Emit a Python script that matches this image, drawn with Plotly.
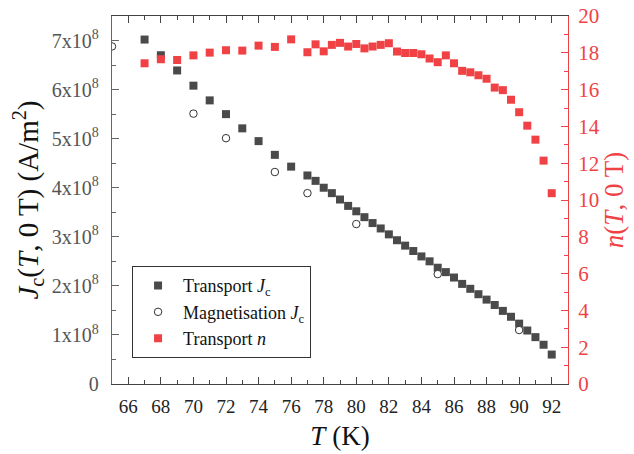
import plotly.graph_objects as go

# ---- data ----
T_transport = [67, 68, 69, 70, 71, 72, 73, 74, 75, 76,
               77, 77.5, 78, 78.5, 79, 79.5, 80, 80.5, 81, 81.5, 82, 82.5,
               83, 83.5, 84, 84.5, 85, 85.5, 86, 86.5, 87, 87.5, 88, 88.5,
               89, 89.5, 90, 90.5, 91, 91.5, 92]
Jc_transport = [7.02, 6.70, 6.39, 6.08, 5.78, 5.50, 5.21, 4.95, 4.67, 4.43,
                4.25, 4.14, 4.00, 3.89, 3.76, 3.63, 3.52, 3.40, 3.28, 3.17, 3.05, 2.93,
                2.82, 2.71, 2.60, 2.50, 2.37, 2.28, 2.17, 2.04, 1.94, 1.83, 1.72, 1.61,
                1.49, 1.37, 1.23, 1.09, 0.955, 0.80, 0.60]  # x1e8 A/m^2
n_transport = [17.43, 17.65, 17.61, 17.86, 18.01, 18.14, 18.12, 18.39, 18.32, 18.73,
               18.03, 18.46, 18.08, 18.43, 18.54, 18.34, 18.48, 18.24, 18.34, 18.43, 18.52, 18.07,
               17.99, 17.99, 17.92, 17.69, 17.49, 17.86, 17.43, 17.02, 16.94, 16.78, 16.59, 16.11,
               15.97, 15.45, 14.77, 14.04, 13.28, 12.14, 10.37]
T_mag = [65, 70, 72, 75, 77, 80, 85, 90]
Jc_mag = [6.88, 5.51, 5.01, 4.32, 3.89, 3.26, 2.24, 1.10]  # x1e8 A/m^2

left_tickvals = [0, 1e8, 2e8, 3e8, 4e8, 5e8, 6e8, 7e8]
left_ticktext = ["0", "1x10<sup>8</sup>", "2x10<sup>8</sup>", "3x10<sup>8</sup>",
                 "4x10<sup>8</sup>", "5x10<sup>8</sup>", "6x10<sup>8</sup>", "7x10<sup>8</sup>"]

SCALE = 1e8
FONT = "Liberation Serif, Times New Roman, serif"
RED = "#f04245"
DARK = "#4a4a4a"

fig = go.Figure()
fig.add_trace(go.Scatter(
    x=T_transport, y=[v * SCALE for v in Jc_transport], mode="markers",
    name="Transport <i>J</i><sub>c</sub>",
    marker=dict(symbol="square", size=8, color=DARK, line=dict(width=0)),
))
fig.add_trace(go.Scatter(
    x=T_mag, y=[v * SCALE for v in Jc_mag], mode="markers",
    name="Magnetisation <i>J</i><sub>c</sub>",
    marker=dict(symbol="circle", size=7.5, color="white", line=dict(width=1, color="#333333")),
))
fig.add_trace(go.Scatter(
    x=T_transport, y=n_transport, mode="markers", yaxis="y2",
    name="Transport <i>n</i>",
    marker=dict(symbol="square", size=8, color=RED, line=dict(width=0)),
))

fig.update_layout(
    width=634, height=454,
    margin=dict(l=112, r=66, t=16, b=70),
    paper_bgcolor="white", plot_bgcolor="white",
    font=dict(family=FONT, size=18, color="#222222"),
    showlegend=True,
    legend=dict(
        x=0.044, y=0.32, xanchor="left", yanchor="top",
        bordercolor="#333333", borderwidth=1, bgcolor="white",
        font=dict(family=FONT, size=18, color="#111111"),
        itemwidth=40,
    ),
    xaxis=dict(
        range=[65, 93], tick0=66, dtick=2, automargin=False,
        showline=True, linecolor="#444444", linewidth=1.3,
        mirror="ticks", ticks="inside", ticklen=7, tickcolor="#444444",
        minor=dict(tick0=65, dtick=1, ticks="inside", ticklen=4, tickcolor="#444444"),
        showgrid=False, zeroline=False, ticklabelstandoff=5,
        tickfont=dict(size=19, color="#222222"),
        title=dict(text="<i>T</i> (K)", font=dict(size=27, color="#111111"), standoff=10),
    ),
    yaxis=dict(
        range=[0, 7.5e8], tickmode="array", tickvals=left_tickvals, ticktext=left_ticktext,
        automargin=False,
        showline=True, linecolor="#666666", linewidth=1.3,
        ticks="inside", ticklen=7, tickcolor="#666666",
        minor=dict(tickmode="linear", tick0=0, dtick=5e7, ticks="inside", ticklen=4, tickcolor="#666666"),
        showgrid=False, zeroline=False, ticklabelstandoff=8,
        tickfont=dict(size=20, color="#555555"),
        title=dict(text="<i>J</i><sub>c</sub>(<i>T</i>, 0 T) (A/m<sup>2</sup>)",
                   font=dict(size=29, color="#111111"), standoff=4),
    ),
    yaxis2=dict(
        overlaying="y", side="right", range=[0, 20], tick0=0, dtick=2, automargin=False,
        showline=True, linecolor=RED, linewidth=1.3,
        ticks="inside", ticklen=7, tickcolor=RED,
        minor=dict(tick0=0, dtick=1, ticks="inside", ticklen=4, tickcolor=RED),
        showgrid=False, zeroline=False, ticklabelstandoff=5,
        tickfont=dict(size=21, color=RED),
        title=dict(text="<i>n</i>(<i>T</i>, 0 T)", font=dict(size=27, color=RED), standoff=4),
    ),
)

fig.write_html("out.html")
